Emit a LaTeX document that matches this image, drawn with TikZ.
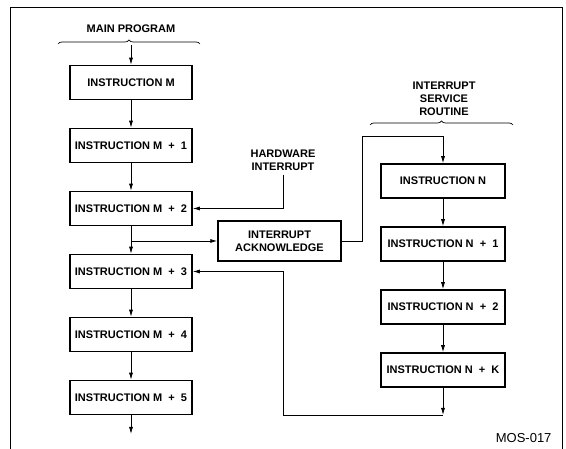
\documentclass[tikz,border=0pt]{standalone}
\usepackage{fontspec}
\setmainfont{Liberation Sans}
\usepackage{tikz}
\usetikzlibrary{positioning,arrows.meta,decorations.pathreplacing}

\begin{document}
\begin{tikzpicture}[
  x=1pt, y=1pt,
  node distance=27.5pt,
  instr/.style={draw, rectangle, line width=1.5pt, minimum width=122pt, minimum height=34pt, align=center, font=\fontsize{11}{13}\selectfont\bfseries},
  caption/.style={align=center, inner sep=2pt, font=\fontsize{11}{13}\selectfont\bfseries},
  flow/.style={-{Latex[length=7pt,width=4pt]}, line width=0.8pt},
  brace/.style={decorate, decoration={brace, amplitude=4pt}, line width=0.7pt},
]
\useasboundingbox (0,0) rectangle (566,449);
\draw[line width=0.9pt] (10,0) -- (10,442) -- (562,442) -- (562,0);

% main program
\node[caption] (mainlbl) at (131,420) {MAIN PROGRAM};
\draw[brace] (58,405) -- (200,405);
\coordinate (mainin) at (131,404);
\node[instr] (M) at (131,366.5) {INSTRUCTION M};
\node[instr, below=of M] (M1) {INSTRUCTION M \;+\; 1};
\node[instr, below=of M1] (M2) {INSTRUCTION M \;+\; 2};
\node[instr, below=of M2] (M3) {INSTRUCTION M \;+\; 3};
\node[instr, below=of M3] (M4) {INSTRUCTION M \;+\; 4};
\node[instr, below=of M4] (M5) {INSTRUCTION M \;+\; 5};
\coordinate (mainout) at (131,15);

\draw[flow] (mainin) -- (M);
\draw[flow] (M) -- (M1);
\draw[flow] (M1) -- (M2);
\draw[flow] (M2) -- (M3);
\draw[flow] (M3) -- (M4);
\draw[flow] (M4) -- (M5);
\draw[flow] (M5) -- (mainout);

% interrupt service routine
\node[caption] (isrlbl) at (444,350) {INTERRUPT\\SERVICE\\ROUTINE};
\draw[brace] (370,324) -- (513,324);
\node[instr, minimum width=124pt] (N) at (443,268) {INSTRUCTION N};
\node[instr, minimum width=124pt, below=of N] (N1) {INSTRUCTION N \;+\; 1};
\node[instr, minimum width=124pt, below=of N1] (N2) {INSTRUCTION N \;+\; 2};
\node[instr, minimum width=124pt, below=of N2] (NK) {INSTRUCTION N \;+\; K};

\draw[flow] (N) -- (N1);
\draw[flow] (N1) -- (N2);
\draw[flow] (N2) -- (NK);

% hardware interrupt and acknowledge
\node[caption, inner sep=4pt] (hw) at (283,289) {HARDWARE\\INTERRUPT};
\node[instr, minimum width=123pt, minimum height=40pt] (ack) at (279.5,208) {INTERRUPT\\ACKNOWLEDGE};
\coordinate (branch) at (131,208);
\coordinate (ackturn) at (362,313);

\draw[flow] (hw.south) |- (M2.east);
\draw[flow] (branch) -- (ack.west);
\draw[flow] (ack.east) -| (ackturn) -| (N.north);

% return to main program
\coordinate (ret) at (443,34);
\coordinate (retcorner) at (283,34);
\draw[flow] (NK) -- (ret);
\draw[line width=0.8pt, -{Latex[length=7pt,width=4pt]}] (ret) -- (retcorner) |- (M3.east);

\node[anchor=east, font=\fontsize{13}{15}\selectfont] (tag) at (555,11) {MOS-017};
\end{tikzpicture}
\end{document}
